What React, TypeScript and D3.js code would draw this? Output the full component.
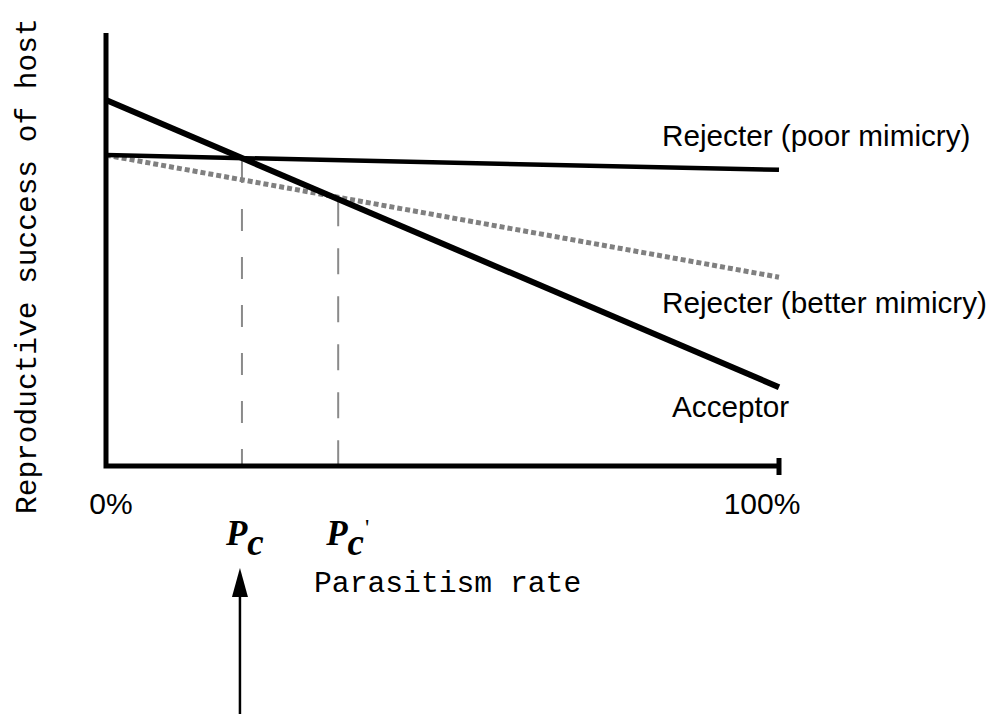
import React from "react";
import * as d3 from "d3";

// parasitism rate (%) at the two ends of each line
const rates = [0, 100];
const acceptor = [0.845, 0.182];
const rejecterPoor = [0.718, 0.684];
const rejecterBetter = [0.718, 0.436];

const tickValues = [0, 100];
const tickLabels = ["0%", "100%"];

// critical parasitism rates (Pc, Pc')
const criticalRates = [20.2, 34.5];

const sans = "'Liberation Sans', Arial, sans-serif";
const mono = "'Liberation Mono', 'Courier New', monospace";
const serif = "'Liberation Serif', 'Times New Roman', serif";

const Chart = () => {
  const width = 991;
  const height = 714;

  const xScale = d3.scaleLinear().domain([0, 100]).range([106, 779]);
  const yScale = d3.scaleLinear().domain([0, 1]).range([466, 33]);

  const line = d3
    .line<number>()
    .x((_, i) => xScale(rates[i]))
    .y((d) => yScale(d));

  const valueAt = (values: number[], r: number) =>
    d3.scaleLinear().domain(rates).range(values)(r);

  const x0 = xScale.range()[0];
  const x1 = xScale.range()[1];
  const yBase = yScale(0);
  const yTop = yScale(1);

  const arrowX = xScale(criticalRates[0]) - 2;

  return (
    <svg
      width={width}
      height={height}
      style={{ position: "absolute", left: 0, top: 0, background: "#fff" }}
    >
      {/* dashed drop lines at the critical rates */}
      <line
        x1={xScale(criticalRates[0])}
        x2={xScale(criticalRates[0])}
        y1={yScale(valueAt(rejecterPoor, criticalRates[0])) + 3}
        y2={yBase}
        stroke="#8a8a8a"
        strokeWidth={2}
        strokeDasharray="22,26"
      />
      <line
        x1={xScale(criticalRates[1])}
        x2={xScale(criticalRates[1])}
        y1={yScale(valueAt(rejecterBetter, criticalRates[1])) + 3}
        y2={yBase}
        stroke="#8a8a8a"
        strokeWidth={2}
        strokeDasharray="26,22"
      />

      {/* lines */}
      <path
        d={line(rejecterBetter) || ""}
        fill="none"
        stroke="#808080"
        strokeWidth={5}
        strokeDasharray="5,3"
      />
      <path d={line(rejecterPoor) || ""} fill="none" stroke="#000" strokeWidth={4.5} />
      <path d={line(acceptor) || ""} fill="none" stroke="#000" strokeWidth={6} />

      {/* axes */}
      <path
        d={`M${x0},${yTop}V${yBase}H${x1}`}
        fill="none"
        stroke="#000"
        strokeWidth={5}
        strokeLinejoin="miter"
      />
      <line x1={x1} x2={x1} y1={yBase - 8} y2={yBase + 9} stroke="#000" strokeWidth={5} />

      {/* tick labels */}
      {tickValues.map((t, i) => (
        <text
          key={t}
          x={xScale(t) + (i === 0 ? 5 : -17)}
          y={514}
          textAnchor="middle"
          fontFamily={sans}
          fontSize={30}
        >
          {tickLabels[i]}
        </text>
      ))}

      {/* line labels */}
      <g fontFamily={sans} fontSize={29.7}>
        <text x={662} y={146}>
          Rejecter (poor mimicry)
        </text>
        <text x={662} y={313}>
          Rejecter (better mimicry)
        </text>
        <text x={672} y={417}>
          Acceptor
        </text>
      </g>

      {/* Pc labels */}
      <g fontFamily={serif} fontWeight="bold" fontStyle="italic" fontSize={35}>
        <text x={xScale(criticalRates[0]) - 16} y={545}>
          P
          <tspan dy={10} fontSize={37}>
            c
          </tspan>
        </text>
        <text x={xScale(criticalRates[1]) - 12} y={545}>
          P
          <tspan dy={10} fontSize={37}>
            c
          </tspan>
          <tspan dx={1} dy={-20} fontSize={24} fontStyle="normal" fontWeight="normal">
            '
          </tspan>
        </text>
      </g>

      {/* axis titles */}
      <text x={314} y={592} fontFamily={mono} fontSize={29.7}>
        Parasitism rate
      </text>
      <text
        transform="translate(36,514) rotate(-90)"
        fontFamily={mono}
        fontSize={29.5}
      >
        Reproductive success of host
      </text>

      {/* arrow to Pc */}
      <line x1={arrowX} x2={arrowX} y1={596} y2={714} stroke="#000" strokeWidth={2.5} />
      <path
        d={`M${arrowX},568L${arrowX - 8},597L${arrowX + 8},597Z`}
        fill="#000"
      />
    </svg>
  );
};

export default function App() {
  return <Chart />;
}
